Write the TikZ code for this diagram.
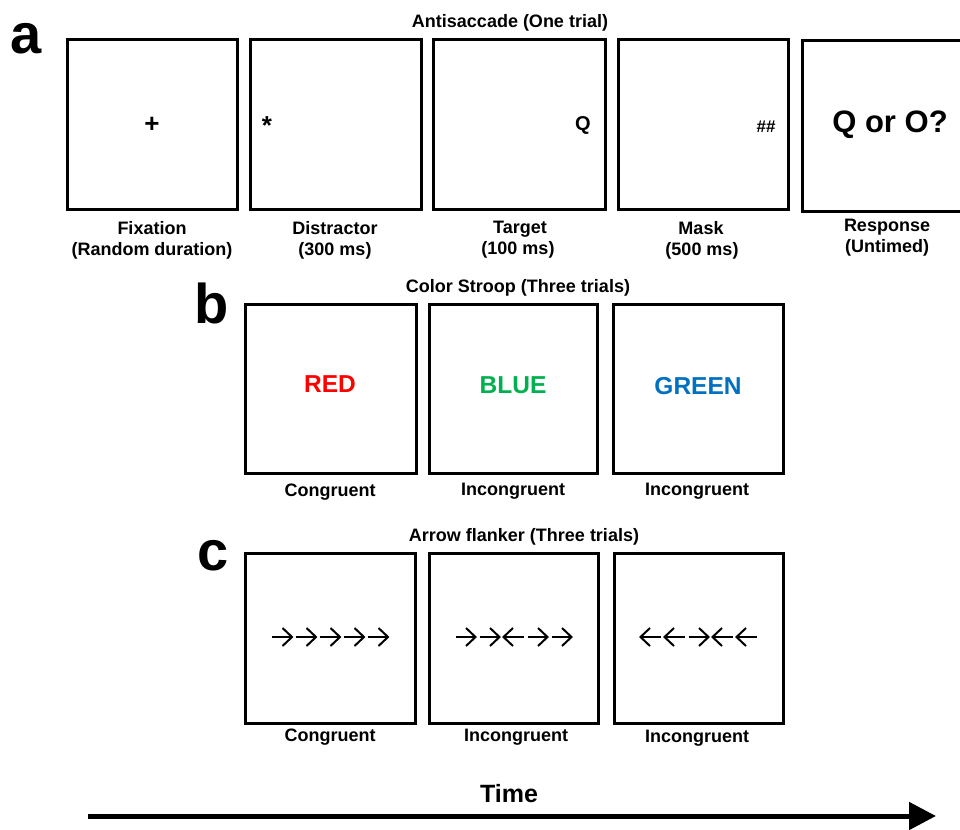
\documentclass[tikz,border=0pt]{standalone}
\usepackage{fontspec}
\setmainfont{Liberation Sans}
\usetikzlibrary{arrows.meta}

\definecolor{stroopred}{RGB}{255,0,0}
\definecolor{stroopgreen}{RGB}{0,176,80}
\definecolor{stroopblue}{RGB}{0,112,192}

\tikzset{
  screen/.style={draw=black, line width=3pt, minimum width=170pt, minimum height=170pt, inner sep=0pt},
  caption/.style={font=\fontsize{18}{20}\selectfont\bfseries, anchor=base, inner sep=0pt},
  paneltag/.style={font=\fontsize{56}{56}\selectfont\bfseries, anchor=base, inner sep=0pt},
  stim/.style={font=\fontsize{20}{20}\selectfont\bfseries, inner sep=0pt},
  word/.style={font=\fontsize{24.5}{25}\selectfont\bfseries, inner sep=0pt},
  flank/.style={line width=2pt, line cap=butt, line join=miter},
  timeline/.style={line width=5pt, -{Triangle[length=27pt, width=27pt]}},
}

% a row of five flanker arrows centred in a screen; 1 = right, -1 = left
\newcommand{\flankrow}[2]{%
  \begin{scope}[shift={(#1.center)}]
    \foreach \d [count=\i] in {#2} {
      \pgfmathsetmacro\cx{(\i-3)*24}
      \draw[flank] (\cx-10*\d,-1) -- (\cx+10*\d,-1);
      \draw[flank] (\cx+0.5*\d,-10) -- (\cx+10*\d,-1) -- (\cx+0.5*\d,8);
    }
  \end{scope}}

\begin{document}
\begin{tikzpicture}[x=1pt, y=-1pt]
  \useasboundingbox (0,0) rectangle (960,829);
  \clip (0,0) rectangle (960,829);

  % ---------- a: antisaccade ----------
  \node[paneltag] (taga) at (26,54) {a};
  \node[caption] (titlea) at (510,28) {Antisaccade (One trial)};

  \node[screen] (a1) at (152,124.5) {};
  \node[screen, minimum width=171pt] (a2) at (335.5,124.5) {};
  \node[screen, minimum width=172pt] (a3) at (519,124.5) {};
  \node[screen] (a4) at (703,124.5) {};
  \node[screen] (a5) at (887,126) {};

  \node[stim, font=\fontsize{26}{26}\selectfont\bfseries] (fix) at (152,125) {+};
  \node[stim, font=\fontsize{26}{26}\selectfont\bfseries] (dis) at (267,126) {*};
  \node[stim] (tgt) at (583,125) {Q};
  \node[stim, font=\fontsize{17}{17}\selectfont\bfseries] (msk) at (766,127) {\#\#};
  \node[stim, font=\fontsize{31}{31}\selectfont\bfseries] (rsp) at (890,125) {Q or O?};

  \node[caption] (l1a) at (152,234) {Fixation};
  \node[caption] (l1b) at (152,255) {(Random duration)};
  \node[caption] (l2a) at (335,234) {Distractor};
  \node[caption] (l2b) at (335,255) {(300 ms)};
  \node[caption] (l3a) at (520,233) {Target};
  \node[caption] (l3b) at (518,254) {(100 ms)};
  \node[caption] (l4a) at (701,234) {Mask};
  \node[caption] (l4b) at (702,255) {(500 ms)};
  \node[caption] (l5a) at (887,231) {Response};
  \node[caption] (l5b) at (887,252) {(Untimed)};

  % ---------- b: colour Stroop ----------
  \node[paneltag] (tagb) at (212,323) {b};
  \node[caption] (titleb) at (518,292) {Color Stroop (Three trials)};

  \node[screen, minimum width=171pt, minimum height=169pt] (b1) at (330.5,388.5) {};
  \node[screen, minimum width=168pt, minimum height=169pt] (b2) at (513,388.5) {};
  \node[screen, minimum height=169pt] (b3) at (698,388.5) {};

  \node[word, text=stroopred] (w1) at (330,384) {RED};
  \node[word, text=stroopgreen] (w2) at (513,385) {BLUE};
  \node[word, text=stroopblue] (w3) at (698,386) {GREEN};

  \node[caption] (lb1) at (330,496) {Congruent};
  \node[caption] (lb2) at (513,495) {Incongruent};
  \node[caption] (lb3) at (697,495) {Incongruent};

  % ---------- c: arrow flanker ----------
  \node[paneltag] (tagc) at (213,570) {c};
  \node[caption] (titlec) at (524,541) {Arrow flanker (Three trials)};

  \node[screen] (c1) at (330,638) {};
  \node[screen, minimum width=169pt] (c2) at (513.5,638) {};
  \node[screen, minimum width=169pt] (c3) at (698.5,638) {};

  \flankrow{c1}{1,1,1,1,1}
  \flankrow{c2}{1,1,-1,1,1}
  \flankrow{c3}{-1,-1,1,-1,-1}

  \node[caption] (lc1) at (330,741) {Congruent};
  \node[caption] (lc2) at (516,741) {Incongruent};
  \node[caption] (lc3) at (697,742) {Incongruent};

  % ---------- time axis ----------
  \node[caption, font=\fontsize{25}{25}\selectfont\bfseries] (timelbl) at (509,802) {Time};
  \coordinate (t0) at (88,816);
  \coordinate (t1) at (936,816);
  \draw[timeline] (t0) -- (t1);
\end{tikzpicture}
\end{document}
